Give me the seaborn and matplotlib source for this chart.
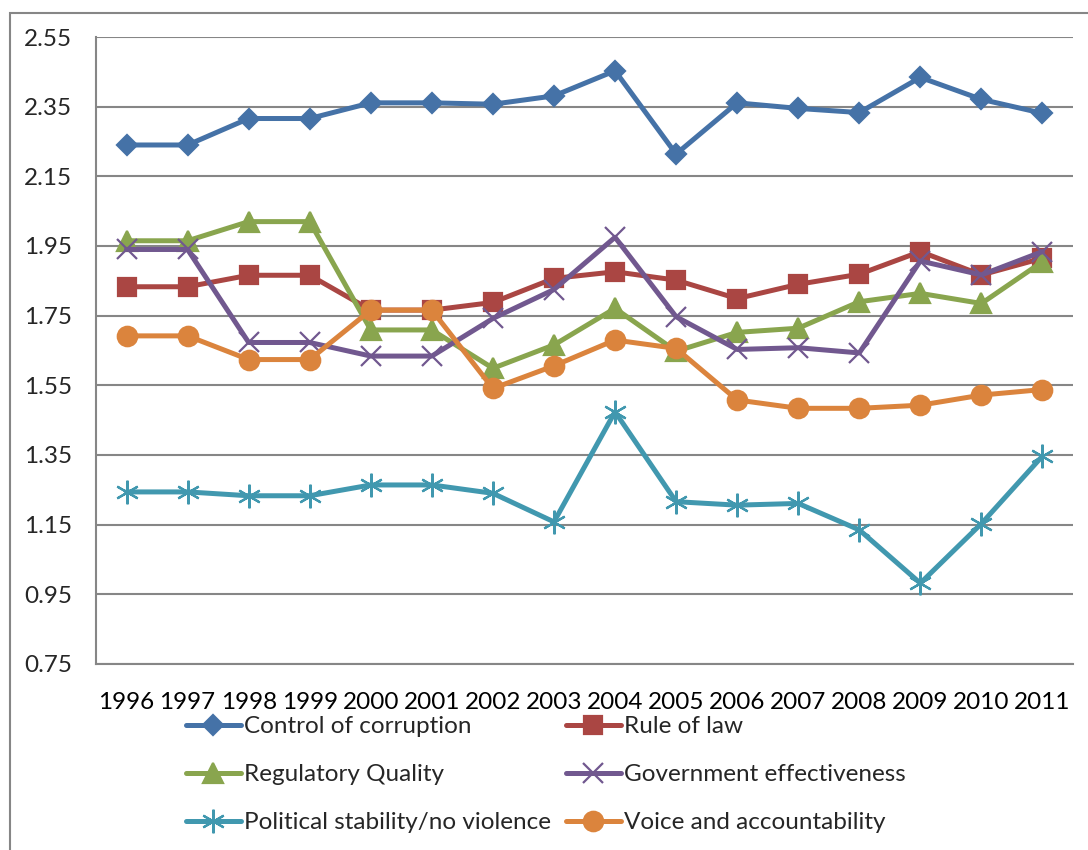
import matplotlib
matplotlib.use("Agg")
import matplotlib.pyplot as plt
import seaborn as sns
import pandas as pd
from matplotlib.patches import Rectangle

years = [1996, 1997, 1998, 1999, 2000, 2001, 2002, 2003,
         2004, 2005, 2006, 2007, 2008, 2009, 2010, 2011]

control_corruption = [2.24, 2.24, 2.316, 2.316, 2.361, 2.361, 2.357, 2.381,
                      2.453, 2.214, 2.361, 2.345, 2.333, 2.434, 2.371, 2.331]
rule_of_law = [1.833, 1.833, 1.866, 1.866, 1.766, 1.766, 1.788, 1.857,
               1.876, 1.852, 1.799, 1.840, 1.869, 1.934, 1.867, 1.915]
regulatory_quality = [1.965, 1.965, 2.02, 2.02, 1.709, 1.709, 1.599, 1.666,
                      1.771, 1.648, 1.702, 1.714, 1.790, 1.814, 1.785, 1.905]
government_effectiveness = [1.94, 1.94, 1.673, 1.673, 1.634, 1.634, 1.742, 1.825,
                            1.975, 1.747, 1.653, 1.658, 1.643, 1.907, 1.867, 1.934]
political_stability = [1.244, 1.244, 1.233, 1.233, 1.264, 1.264, 1.240, 1.158,
                       1.474, 1.216, 1.206, 1.211, 1.135, 0.982, 1.153, 1.347]
voice_accountability = [1.692, 1.692, 1.624, 1.624, 1.766, 1.766, 1.541, 1.606,
                        1.680, 1.656, 1.508, 1.484, 1.484, 1.493, 1.522, 1.538]

series_names = ["Control of corruption", "Rule of law", "Regulatory Quality",
                "Government effectiveness", "Political stability/no violence",
                "Voice and accountability"]
series_values = [control_corruption, rule_of_law, regulatory_quality,
                 government_effectiveness, political_stability, voice_accountability]

colors = ["#4572A7", "#AA4643", "#89A54E", "#71588F", "#4198AF", "#DB843D"]
markers = ["D", "s", "^", "x", (6, 2, 0), "o"]
msizes = [10, 13, 15, 14, 17, 14]

sns.set_style("white")
plt.rcParams["font.family"] = ["Lato", "DejaVu Sans"]
fs = 17.5

fig = plt.figure(figsize=(10.88, 8.5), dpi=100)
ax = fig.add_axes([96 / 1088, 1 - 664 / 850, (1073 - 96) / 1088, (664 - 37) / 850])

handles = {}
for name, vals, c, m, ms in zip(series_names, series_values, colors, markers, msizes):
    df = pd.DataFrame({"x": range(len(years)), "y": vals})
    sns.lineplot(data=df, x="x", y="y", ax=ax, color=c, marker=m, markersize=ms,
                 linewidth=3.6, markeredgecolor=c, markeredgewidth=1.6, label=name,
                 legend=False)
    handles[name] = ax.lines[-1]

# axes
ax.set_xlim(-0.5, len(years) - 0.5)
ax.set_ylim(0.75, 2.55)
ax.set_xticks(range(len(years)))
ax.set_xticklabels([str(y) for y in years])
ax.set_xticks([i - 0.5 for i in range(len(years) + 1)], minor=True)
ax.tick_params(axis="x", which="major", length=0, pad=20, labelsize=fs, colors="black")
ax.tick_params(axis="x", which="minor", length=7, width=1.5, color="#868686", direction="out")
yt = [0.75 + 0.2 * i for i in range(10)]
ax.set_yticks(yt)
ax.set_yticklabels(["%.2f" % v for v in yt])
ax.tick_params(axis="y", length=6, width=1.5, color="#868686", pad=11, labelsize=fs)
ax.set_xlabel("")
ax.set_ylabel("")
ax.grid(axis="y", color="#868686", linewidth=1.5)
ax.grid(axis="x", visible=False)
ax.set_axisbelow(True)
for s in ["top", "right"]:
    ax.spines[s].set_visible(False)
for s in ["left", "bottom"]:
    ax.spines[s].set_color("#868686")
    ax.spines[s].set_linewidth(1.5)

order = ["Control of corruption", "Regulatory Quality", "Political stability/no violence",
         "Rule of law", "Government effectiveness", "Voice and accountability"]
fig.legend([handles[n] for n in order], order, ncol=2, loc="upper left",
           bbox_to_anchor=(186 / 1088, 1 - 716 / 850), frameon=False,
           fontsize=fs, handlelength=2.25, handletextpad=0.15, columnspacing=0.6,
           labelspacing=1.12, borderpad=0, borderaxespad=0)

# outer chart border
fig.patches.append(Rectangle((10 / 1088, -0.05), 1.1, 0.05 + 1 - 13 / 850,
                             transform=fig.transFigure, fill=False,
                             edgecolor="#868686", linewidth=1.5))

fig.savefig("out.png", dpi=100)
